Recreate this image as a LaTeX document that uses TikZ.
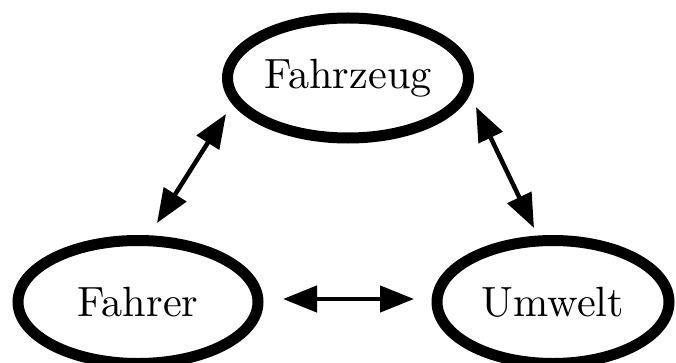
\documentclass[tikz,border=0pt]{standalone}
\usepackage{graphicx}
\usetikzlibrary{shapes.geometric,arrows.meta}
\begin{document}
\begin{tikzpicture}[x=1pt,y=1pt,
  ell/.style={draw=black,line width=11pt,shape=ellipse,inner sep=0pt},
  arr/.style={line width=4.5pt,{Triangle[length=34pt,width=26pt]}-{Triangle[length=34pt,width=26pt]}}]
\newcommand{\bigtxt}[1]{\scalebox{4.23}{\fontsize{10}{12}\selectfont #1}}
\useasboundingbox (0,0) rectangle (676,362);
\node[ell,minimum width=241pt,minimum height=120pt] (fz) at (348,284) {\bigtxt{Fahrzeug}};
\node[ell,minimum width=240pt,minimum height=123pt] (fa) at (138,60) {\bigtxt{Fahrer}};
\node[ell,minimum width=232pt,minimum height=123pt] (uw) at (553,60) {\bigtxt{Umwelt}};
\coordinate (fzL) at (226,248);
\coordinate (faT) at (157,139);
\coordinate (fzR) at (476,255);
\coordinate (uwT) at (534,134);
\coordinate (faR) at (283,63);
\coordinate (uwL) at (414,63);
\draw[arr] (fzL) -- (faT);
\draw[arr] (fzR) -- (uwT);
\draw[arr] (faR) -- (uwL);
\end{tikzpicture}
\end{document}
